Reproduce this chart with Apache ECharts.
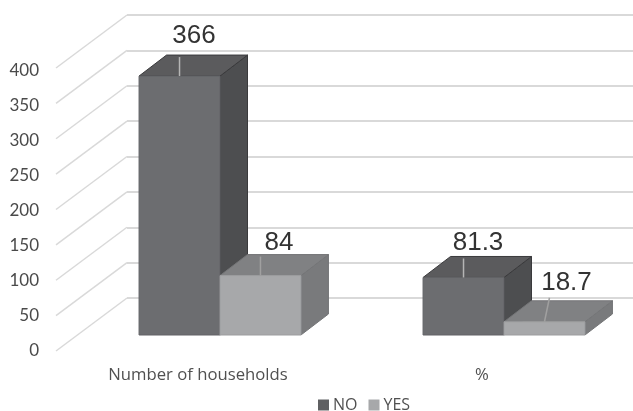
<!DOCTYPE html>
<html><head><meta charset="utf-8">
<style>html,body{margin:0;padding:0;background:#fff}#c{width:633px;height:411px}</style>
<script src="https://cdn.jsdelivr.net/npm/echarts@6/dist/echarts.min.js"></script>
</head><body><div id="c"></div>
<script>
var categories = ['Number of households', '%'];
var noValues = [366, 81.3];
var yesValues = [84, 18.7];
var yTicks = [0, 50, 100, 150, 200, 250, 300, 350, 400];

// label placement relative to bar front-top centre, per series / category
var noLabelOffsets = [[14.5, -40], [14.5, -35]];
var yesLabelOffsets = [[18.5, -33], [22, -39]];
var yesLeaderTilt = [0, 5];

var WALL_DX = 71, WALL_DY = -53;      // front-plane to back-wall
var BAR_DX = 22, BAR_DY = -16;        // front-plane to bar front
var DEPTH_DX = 27.5, DEPTH_DY = -21;  // bar depth
var BAR_RATIO = 0.285;
var FONT = 'Lato, "Open Sans", sans-serif';
var CAT_FONT = '"Open Sans", sans-serif';

function poly(pts, color, stroke) {
  return { type: 'polygon', shape: { points: pts },
    style: { fill: color, stroke: stroke, lineWidth: 1 } };
}

function barRenderer(side, colors, offsets, tilt) {
  return function (params, api) {
    var i = api.value(0), v = api.value(1);
    var base = api.coord([i, 0]), top = api.coord([i, v]);
    var w = api.size([1, 0])[0] * BAR_RATIO;
    var x0 = base[0] + BAR_DX + (side === 0 ? -w : 0), x1 = x0 + w;
    var yb = base[1] + BAR_DY, yt = top[1] + BAR_DY;
    var cx = (x0 + x1) / 2;
    var off = offsets[i];
    var dtilt = tilt ? tilt[i] : 0;
    return { type: 'group', children: [
      poly([[x1, yb], [x1 + DEPTH_DX, yb + DEPTH_DY], [x1 + DEPTH_DX, yt + DEPTH_DY], [x1, yt]], colors.side, colors.edge),
      poly([[x0, yt], [x1, yt], [x1 + DEPTH_DX, yt + DEPTH_DY], [x0 + DEPTH_DX, yt + DEPTH_DY]], colors.top, colors.edge),
      poly([[x0, yb], [x1, yb], [x1, yt], [x0, yt]], colors.front, colors.frontEdge),
      { type: 'line', shape: { x1: cx, y1: yt, x2: cx + dtilt, y2: yt - (dtilt ? 24 : 19) },
        style: { stroke: colors.leader, lineWidth: 1.5 } },
      { type: 'text', style: { text: String(v), x: cx + off[0], y: yt + off[1], align: 'center',
        verticalAlign: 'middle', fill: '#333333', fontSize: 26, fontFamily: '"Liberation Sans", Arial, sans-serif' } }
    ] };
  };
}

function wallRenderer(params, api) {
  var p = api.coord([0, api.value(0)]);
  var x = params.coordSys.x;
  return { type: 'line', shape: { x1: x, y1: p[1], x2: x + WALL_DX, y2: p[1] + WALL_DY },
    style: { stroke: '#d9d9d9', lineWidth: 1.5 } };
}

function pairs(vals) { return vals.map(function (v, i) { return [i, v]; }); }

var chart = echarts.init(document.getElementById('c'), null, { renderer: 'canvas' });
chart.setOption({
  animation: false,
  backgroundColor: '#ffffff',
  grid: [
    { left: 56, top: 68, width: 568, height: 283 },
    { left: 127, top: 15, width: 568, height: 283 },
    { left: 56, top: 71, width: 568, height: 280 }
  ],
  xAxis: [
    { type: 'category', gridIndex: 0, data: categories,
      axisLine: { show: false }, axisTick: { show: false },
      axisLabel: { margin: 16, fontSize: 16.7, fontFamily: CAT_FONT, color: '#505050' } },
    { type: 'category', gridIndex: 1, data: categories, show: false },
    { type: 'category', gridIndex: 2, data: categories, show: false }
  ],
  yAxis: [
    { type: 'value', gridIndex: 0, min: 0, max: 400, interval: 50, show: false },
    { type: 'value', gridIndex: 1, min: 0, max: 400, interval: 50,
      axisLine: { show: false }, axisTick: { show: false }, axisLabel: { show: false },
      splitLine: { show: true, lineStyle: { color: '#d9d9d9', width: 2 } } },
    { type: 'value', gridIndex: 2, min: 0, max: 400, interval: 50,
      axisLine: { show: false }, axisTick: { show: false }, splitLine: { show: false },
      axisLabel: { margin: 17, fontSize: 17, fontFamily: FONT, color: '#4a4a4a' } }
  ],
  legend: {
    data: ['NO', 'YES'], left: 313, top: 392, itemWidth: 11, itemHeight: 11, itemGap: 11,
    icon: 'rect', selectedMode: false,
    textStyle: { fontSize: 16, fontFamily: CAT_FONT, color: '#505050', padding: [0, 0, 0, -1] }
  },
  series: [
    { type: 'custom', silent: true, xAxisIndex: 0, yAxisIndex: 0, clip: false, z: 1,
      data: yTicks.map(function (t) { return [t]; }), encode: { y: 0 }, renderItem: wallRenderer },
    { type: 'custom', name: 'NO', silent: true, xAxisIndex: 0, yAxisIndex: 0, clip: false, z: 2,
      itemStyle: { color: '#5f6062' }, data: pairs(noValues), encode: { x: 0, y: 1 },
      renderItem: barRenderer(0, { front: '#6c6d70', top: '#5b5b5d', side: '#4d4e50',
        edge: '#3a3a3c', frontEdge: '#626366', leader: '#b5b5b5' }, noLabelOffsets) },
    { type: 'custom', name: 'YES', silent: true, xAxisIndex: 0, yAxisIndex: 0, clip: false, z: 3,
      itemStyle: { color: '#a7a8aa' }, data: pairs(yesValues), encode: { x: 0, y: 1 },
      renderItem: barRenderer(1, { front: '#a7a8aa', top: '#808183', side: '#797a7c',
        edge: '#747577', frontEdge: '#9c9d9f', leader: '#a0a0a0' }, yesLabelOffsets, yesLeaderTilt) }
  ]
});
</script></body></html>
